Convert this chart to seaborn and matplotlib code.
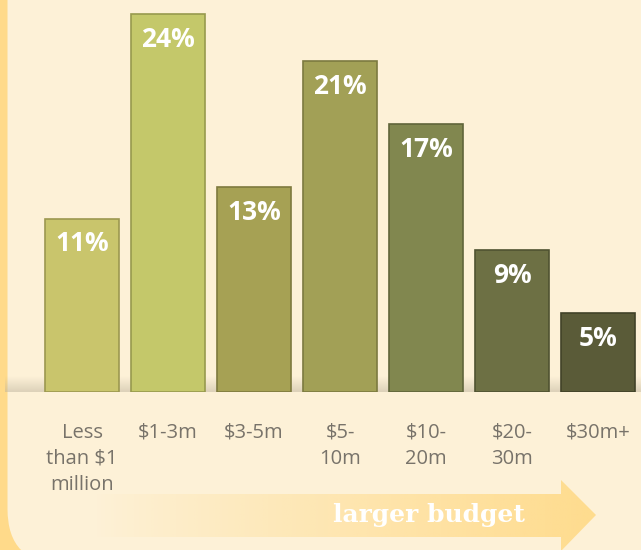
import numpy as np
import pandas as pd
import matplotlib
matplotlib.use("Agg")
import matplotlib.pyplot as plt
from matplotlib.patches import FancyBboxPatch, Polygon
import seaborn as sns

# data
categories = ["Less\nthan $1\nmillion", "$1-3m", "$3-5m", "$5-\n10m", "$10-\n20m", "$20-\n30m", "$30m+"]
shares = [11, 24, 13, 21, 17, 9, 5]
bar_colors = ["#C9C56C", "#C4C86A", "#A6A154", "#A2A056", "#81874F", "#6D7044", "#5A5B38"]
edge_colors = ["#9C9850", "#979A4E", "#7E7A3E", "#7C7A40", "#60653A", "#505331", "#414228"]

W, H = 641, 550
BG = "#FDF1D7"
BORDER = "#FFDA8A"

sns.set_style("white")
plt.rcParams["font.family"] = ["Open Sans", "DejaVu Sans"]

fig = plt.figure(figsize=(W / 100, H / 100), dpi=100)
fig.patch.set_facecolor(BORDER)

# cream panel with a rounded bottom-left corner
panel = FancyBboxPatch((7.5 / 100, -0.14), 7.0, 6.5,
                       boxstyle="round,pad=0,rounding_size=0.55",
                       transform=fig.dpi_scale_trans, facecolor=BG, edgecolor="none", zorder=0)
fig.patches.append(panel)

# overlay in pixel coords for the baseline shadow and the arrow
bg_ax = fig.add_axes([0, 0, 1, 1], zorder=1)
bg_ax.set_xlim(0, W)
bg_ax.set_ylim(H, 0)
bg_ax.axis("off")
bg_ax.patch.set_alpha(0)

# soft shadow along the baseline
shade = np.zeros((20, 2, 4))
shade[..., :3] = matplotlib.colors.to_rgb("#BDB29C")
shade[..., 3] = np.linspace(0.0, 0.5, 20)[:, None]
bg_ax.imshow(shade, extent=(5, W, 392, 376), aspect="auto", interpolation="bilinear", zorder=1)

# arrow "larger budget"
arrow_pts = [(95, 494), (561, 494), (561, 480), (596, 515), (561, 551), (561, 537), (95, 537)]
arrow = Polygon(arrow_pts, closed=True, facecolor="none", edgecolor="none")
bg_ax.add_patch(arrow)
grad = np.zeros((2, 300, 4))
grad[..., :3] = matplotlib.colors.to_rgb("#FFDC8E")
grad[..., 3] = np.linspace(0.0, 1.0, 300)[None, :] ** 0.9
im = bg_ax.imshow(grad, extent=(95, 596, 551, 480), aspect="auto", interpolation="bilinear", zorder=2)
im.set_clip_path(arrow)
bg_ax.text(429, 515, "larger budget", color="white", fontsize=18, fontweight="bold",
           family=["DejaVu Serif"], ha="center", va="center", zorder=3)

# main bar chart
ax = fig.add_axes([39 / W, 1 - 392 / H, (W - 39) / W, 392 / H], zorder=2)
ax.patch.set_alpha(0)
df = pd.DataFrame({"category": categories, "share": shares})
sns.barplot(data=df, x="category", y="share", hue="category", palette=bar_colors,
            legend=False, width=0.85, saturation=1, ax=ax)

for bar, ec in zip(ax.patches, edge_colors):
    bar.set_edgecolor(ec)
    bar.set_linewidth(1.2)

for i, v in enumerate(shares):
    ax.annotate(f"{v}%", xy=(i, v), xytext=(0, -18), textcoords="offset points",
                ha="center", va="center", color="white", fontsize=19, fontweight="bold")

ax.set_xlim(-0.5, 6.5)
ax.set_ylim(0, 392 / 15.75)
ax.set_xlabel("")
ax.set_ylabel("")
ax.set_yticks([])
ax.tick_params(axis="x", length=0, pad=22, labelsize=14.5, labelcolor="#78736A")
for lbl in ax.get_xticklabels():
    lbl.set_linespacing(1.42)
sns.despine(ax=ax, left=True, bottom=True)

fig.savefig("out.png", dpi=100, facecolor=fig.get_facecolor())
